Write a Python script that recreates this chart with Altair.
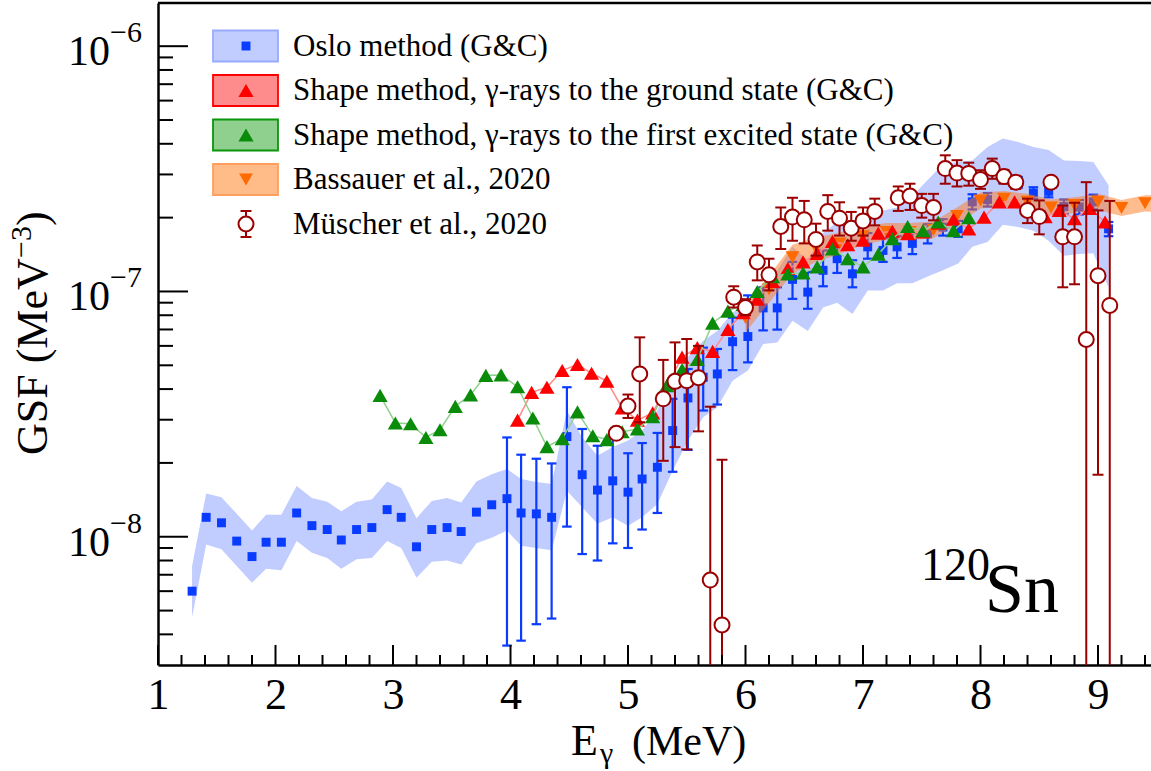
import altair as alt
import pandas as pd

# ---------------------------------------------------------------------------
# Gamma-ray strength function of 120Sn
# ---------------------------------------------------------------------------

# Oslo method (G&C): energies (MeV), GSF values, uncertainty band
oslo_e = [1.29, 1.41, 1.54, 1.67, 1.80, 1.92, 2.05, 2.18, 2.31, 2.44, 2.56,
          2.69, 2.82, 2.95, 3.07, 3.20, 3.33, 3.46, 3.58, 3.71, 3.84, 3.97,
          4.09, 4.22, 4.35, 4.48, 4.61, 4.74, 4.87, 5.00, 5.12, 5.25, 5.38,
          5.51, 5.64, 5.76, 5.89, 6.02, 6.15, 6.27, 6.40, 6.53, 6.66, 6.78,
          6.91, 7.04, 7.17, 7.29, 7.42, 7.55, 7.68, 7.81, 7.93, 8.06, 8.19,
          8.32, 8.45, 8.58, 8.71, 8.84, 8.96, 9.09]
oslo_gsf = [6.0e-9, 1.20e-8, 1.14e-8, 9.6e-9, 8.3e-9, 9.5e-9, 9.5e-9, 1.25e-8,
            1.11e-8, 1.07e-8, 9.7e-9, 1.07e-8, 1.09e-8, 1.29e-8, 1.20e-8,
            9.1e-9, 1.07e-8, 1.09e-8, 1.05e-8, 1.26e-8, 1.35e-8,
            1.43e-8, 1.25e-8, 1.24e-8, 1.20e-8, 2.56e-8, 1.79e-8, 1.55e-8,
            1.69e-8, 1.52e-8,
            1.72e-8, 1.92e-8, 2.71e-8, 3.68e-8, 4.47e-8, 4.61e-8, 6.24e-8,
            6.55e-8, 8.57e-8, 8.57e-8,
            1.12e-7, 9.94e-8, 1.22e-7, 1.36e-7, 1.18e-7, 1.52e-7, 1.47e-7,
            1.52e-7, 1.57e-7, 1.72e-7,
            1.83e-7, 1.80e-7, 2.32e-7, 2.37e-7, 2.93e-7, 2.79e-7, 2.52e-7,
            2.56e-7, 2.22e-7, 2.21e-7, 2.32e-7, 1.80e-7]
oslo_band_lo = [4.7e-9, 9.3e-9, 8.9e-9, 7.6e-9, 6.5e-9, 7.4e-9, 7.3e-9, 9.6e-9,
                8.6e-9, 8.2e-9, 7.4e-9, 8.1e-9, 8.2e-9, 9.6e-9, 9.0e-9, 6.8e-9,
                7.9e-9, 8.0e-9, 7.7e-9, 9.4e-9, 9.9e-9,
                1.06e-8, 9.2e-9, 9.0e-9, 8.8e-9, 1.54e-8, 1.32e-8, 1.13e-8,
                1.20e-8, 1.11e-8,
                1.20e-8, 1.36e-8, 1.86e-8, 2.47e-8, 3.07e-8, 3.37e-8, 4.33e-8,
                4.76e-8, 6.1e-8, 6.2e-8,
                7.6e-8, 6.9e-8, 8.6e-8, 9.0e-8, 8.1e-8, 1.01e-7, 1.01e-7,
                1.08e-7, 1.08e-7, 1.15e-7,
                1.22e-7, 1.30e-7, 1.52e-7, 1.59e-7, 1.87e-7, 1.83e-7, 1.77e-7,
                1.61e-7, 1.40e-7, 1.42e-7, 1.43e-7, 1.04e-7]
oslo_band_hi = [7.6e-9, 1.50e-8, 1.45e-8, 1.24e-8, 1.06e-8, 1.23e-8, 1.23e-8,
                1.61e-8, 1.44e-8, 1.39e-8, 1.27e-8, 1.39e-8, 1.42e-8, 1.68e-8,
                1.58e-8, 1.19e-8, 1.40e-8, 1.44e-8, 1.38e-8, 1.68e-8, 1.80e-8,
                1.89e-8, 1.72e-8, 1.67e-8, 1.64e-8, 3.27e-8, 2.54e-8, 2.14e-8,
                2.32e-8, 2.47e-8,
                2.71e-8, 3.27e-8, 4.34e-8, 5.4e-8, 6.3e-8, 6.9e-8, 8.2e-8,
                9.0e-8, 1.08e-7, 1.22e-7,
                1.52e-7, 1.34e-7, 1.73e-7, 1.92e-7, 1.83e-7, 2.08e-7, 2.14e-7,
                2.20e-7, 2.45e-7, 2.85e-7,
                3.30e-7, 3.37e-7, 3.42e-7, 3.88e-7, 4.20e-7, 4.07e-7, 3.88e-7,
                3.77e-7, 3.42e-7, 3.40e-7, 3.37e-7, 2.71e-7]
# statistical error bars (only above 3.9 MeV)
oslo_err_lo = [None] * 21 + [
    3.6e-9, 3.77e-9, 4.4e-9, 4.64e-9, 1.10e-8, 8.5e-9, 8.0e-9, 9.4e-9, 9.0e-9,
    1.07e-8, 1.25e-8, 1.84e-8, 2.26e-8, 3.27e-8, 3.46e-8, 4.78e-8, 5.14e-8,
    6.94e-8, 6.99e-8, 9.33e-8, 8.5e-8, 1.05e-7, 1.19e-7, 1.04e-7, 1.36e-7,
    1.32e-7, 1.37e-7, 1.42e-7, 1.57e-7, 1.69e-7, 1.67e-7, 2.16e-7, 2.22e-7,
    2.78e-7, 2.65e-7, 2.38e-7, 2.42e-7, 2.07e-7, 2.06e-7, 2.16e-7, 1.68e-7]
oslo_err_hi = [None] * 21 + [
    2.54e-8, 2.16e-8, 2.08e-8, 1.99e-8, 4.07e-8, 2.75e-8, 2.35e-8, 2.51e-8,
    2.19e-8, 2.41e-8, 2.65e-8, 3.65e-8, 4.83e-8, 5.9e-8, 5.83e-8, 7.82e-8,
    9.64e-8, 1.04e-7, 1.04e-7, 1.32e-7, 1.20e-7, 1.47e-7, 1.57e-7, 1.34e-7,
    1.73e-7, 1.65e-7, 1.68e-7, 1.73e-7, 1.88e-7, 1.97e-7, 1.94e-7, 2.49e-7,
    2.52e-7, 3.08e-7, 2.93e-7, 2.66e-7, 2.70e-7, 2.37e-7, 2.36e-7, 2.48e-7,
    1.92e-7]

# Shape method, gamma-rays to the ground state (G&C)
gs_e = [4.06, 4.18, 4.31, 4.44, 4.57, 4.69, 4.82, 4.95, 5.08, 5.21, 5.34,
        5.46, 5.59, 5.72, 5.85, 5.98, 6.10, 6.23, 6.36, 6.49, 6.61, 6.74,
        6.87, 7.00, 7.13, 7.25, 7.38, 7.51, 7.64, 7.77, 7.90, 8.03, 8.16,
        8.29, 8.42, 8.55, 8.67, 8.80, 8.93, 9.06]
gs_gsf = [2.99e-8, 3.88e-8, 4.07e-8, 4.76e-8, 5.04e-8, 4.64e-8, 4.31e-8,
          3.35e-8, 2.99e-8, 3.2e-8, 4.2e-8, 5.4e-8, 5.9e-8, 5.7e-8, 7.0e-8,
          8.2e-8, 9.3e-8, 1.10e-7, 1.24e-7, 1.32e-7, 1.43e-7, 1.60e-7,
          1.55e-7, 1.62e-7, 1.73e-7, 1.76e-7, 1.72e-7, 1.75e-7, 1.90e-7,
          1.97e-7, 1.80e-7, 2.01e-7, 2.32e-7, 2.32e-7, 2.20e-7, 2.02e-7,
          2.14e-7, 1.98e-7, 2.18e-7, 1.92e-7]

# Shape method, gamma-rays to the first excited state (G&C)
ex_e = [2.89, 3.02, 3.15, 3.28, 3.40, 3.53, 3.66, 3.79, 3.92, 4.06, 4.19,
        4.31, 4.44, 4.57, 4.70, 4.82, 4.95, 5.08, 5.21, 5.33, 5.46, 5.59,
        5.72, 5.85, 5.98, 6.10, 6.23, 6.36, 6.49, 6.61, 6.74, 6.87, 7.00,
        7.13, 7.25, 7.38, 7.51, 7.64, 7.77, 7.90]
ex_gsf = [3.77e-8, 2.91e-8, 2.89e-8, 2.54e-8, 2.73e-8, 3.40e-8, 3.79e-8,
          4.55e-8, 4.57e-8, 4.09e-8, 3.05e-8, 2.33e-8, 2.51e-8, 3.23e-8,
          2.58e-8, 2.49e-8, 2.68e-8, 2.75e-8, 3.09e-8, 4.13e-8, 4.80e-8,
          5.28e-8, 7.43e-8, 8.32e-8, 8.85e-8, 1.00e-7, 1.15e-7, 1.18e-7,
          1.19e-7, 1.26e-7, 1.49e-7, 1.36e-7, 1.26e-7, 1.42e-7, 1.64e-7,
          1.84e-7, 1.77e-7, 1.92e-7, 1.77e-7, 2.00e-7]

# Bassauer et al., 2020
bas_e = [6.0, 6.2, 6.4, 6.6, 6.8, 7.0, 7.2, 7.4, 7.6, 7.8, 8.0, 8.2, 8.4,
         8.6, 8.8, 9.0, 9.2, 9.4, 9.6]
bas_gsf = [7.8e-8, 1.02e-7, 1.38e-7, 1.50e-7, 1.57e-7, 1.68e-7, 1.75e-7,
           1.75e-7, 1.78e-7, 2.03e-7, 2.35e-7, 2.39e-7, 2.32e-7, 2.20e-7,
           2.25e-7, 2.32e-7, 2.19e-7, 2.29e-7, 2.27e-7]
bas_lo = [6.8e-8, 9.0e-8, 1.18e-7, 1.32e-7, 1.42e-7, 1.55e-7, 1.62e-7,
          1.62e-7, 1.65e-7, 1.88e-7, 2.18e-7, 2.22e-7, 2.15e-7, 2.04e-7,
          2.09e-7, 2.15e-7, 2.03e-7, 2.12e-7, 2.10e-7]
bas_hi = [8.9e-8, 1.16e-7, 1.55e-7, 1.66e-7, 1.74e-7, 1.84e-7, 1.90e-7,
          1.90e-7, 1.93e-7, 2.20e-7, 2.53e-7, 2.57e-7, 2.50e-7, 2.37e-7,
          2.42e-7, 2.50e-7, 2.36e-7, 2.47e-7, 2.45e-7]

# Müscher et al., 2020 (lower ends below 3e-9 run off the frame)
mu_e = [4.9, 5.0, 5.1, 5.3, 5.4, 5.5, 5.6, 5.7, 5.8, 5.9, 6.0, 6.1, 6.2, 6.3,
        6.4, 6.5, 6.6, 6.7, 6.8, 6.9, 7.0, 7.1, 7.3, 7.4, 7.5, 7.6, 7.7, 7.8,
        7.9, 8.0, 8.1, 8.2, 8.3, 8.4, 8.5, 8.6, 8.7, 8.8, 8.9, 9.0, 9.1]
mu_gsf = [2.64e-8, 3.41e-8, 4.61e-8, 3.65e-8, 4.3e-8, 4.33e-8, 4.45e-8,
          6.66e-9, 4.37e-9, 9.48e-8, 8.6e-8, 1.32e-7, 1.17e-7, 1.84e-7,
          2.01e-7, 1.96e-7, 1.63e-7, 2.12e-7, 1.99e-7, 1.81e-7, 1.94e-7,
          2.12e-7, 2.41e-7, 2.45e-7, 2.24e-7, 2.20e-7, 3.17e-7, 3.04e-7,
          3.03e-7, 2.86e-7, 3.17e-7, 2.94e-7, 2.79e-7, 2.14e-7, 2.02e-7,
          2.79e-7, 1.67e-7, 1.67e-7, 6.37e-8, 1.16e-7, 8.77e-8]
mu_lo = [2.52e-8, 3.05e-8, 2.93e-8, 2.04e-8, 2.32e-8, 2.27e-8, 2.69e-8,
         1e-9, 1e-9, 8.6e-8, 8.0e-8, 1.11e-7, 1.01e-7, 1.49e-7, 1.61e-7,
         1.57e-7, 1.40e-7, 1.77e-7, 1.69e-7, 1.61e-7, 1.69e-7, 1.86e-7,
         2.13e-7, 2.15e-7, 2.00e-7, 1.95e-7, 2.75e-7, 2.68e-7, 2.70e-7,
         2.62e-7, 2.88e-7, 2.75e-7, 2.62e-7, 1.90e-7, 1.71e-7, 2.65e-7,
         1.04e-7, 1.07e-7, 1e-9, 1.79e-8, 1e-9]
mu_hi = [2.76e-8, 3.8e-8, 6.5e-8, 5.26e-8, 6.2e-8, 6.4e-8, 6.0e-8, 3.39e-8,
         2.06e-8, 1.05e-7, 9.3e-8, 1.54e-7, 1.36e-7, 2.20e-7, 2.41e-7,
         2.34e-7, 1.89e-7, 2.47e-7, 2.31e-7, 2.11e-7, 2.20e-7, 2.39e-7,
         2.68e-7, 2.75e-7, 2.50e-7, 2.50e-7, 3.59e-7, 3.43e-7, 3.35e-7,
         3.12e-7, 3.48e-7, 3.13e-7, 2.96e-7, 2.39e-7, 2.35e-7, 2.93e-7,
         2.24e-7, 2.30e-7, 2.79e-7, 2.14e-7, 2.34e-7]

legend_labels = [
    "Oslo method (G&C)",
    "Shape method, γ-rays to the ground state (G&C)",
    "Shape method, γ-rays to the first excited state (G&C)",
    "Bassauer et al., 2020",
    "Müscher et al., 2020",
]

# axis tick positions
x_major_ticks = list(range(1, 10))
x_minor_ticks = [round(1 + 0.2 * k, 1) for k in range(43) if k % 5]
y_major_ticks = [1e-8, 1e-7, 1e-6]
y_major_exps = ["−8", "−7", "−6"]
y_minor_ticks = [m * 10.0 ** d for d in (-9, -8, -7) for m in range(2, 10)
                 if m * 10.0 ** d > 3.5e-9]

# ---------------------------------------------------------------------------
W, H = 993, 662
SERIF = "Liberation Serif"
BLUE_BAND = "#C1CCFF"
BLUE = "#0A3CFF"
RED = "#FF0000"
GREEN = "#0A8C0A"
ORANGE = "#FF6A00"
MU = "#9B0000"

xs = alt.Scale(domain=[1.0, 9.451], nice=False, zero=False)
ys = alt.Scale(type="log", domain=[3e-9, 1.5e-6], nice=False)
x_axis = alt.Axis(values=x_major_ticks, format="d", title=None, grid=False,
                  ticks=False, domainColor="black", domainWidth=2.5,
                  labelFont=SERIF, labelFontSize=44, labelColor="black",
                  labelFlush=False, labelPadding=8, labelOverlap=False)
y_axis = alt.Axis(labels=False, ticks=False, title=None, grid=False,
                  domainColor="black", domainWidth=2.5)


def X(f):
    return alt.X(f"{f}:Q", scale=xs, axis=x_axis)


def Y(f):
    return alt.Y(f"{f}:Q", scale=ys, axis=y_axis)


def caps(df, xcol, lo, hi):
    parts = [df[[xcol, lo]].rename(columns={lo: "c"}),
             df[[xcol, hi]].rename(columns={hi: "c"})]
    out = pd.concat(parts, ignore_index=True)
    return out[out["c"] >= 3e-9]


oslo = pd.DataFrame({"e": oslo_e, "v": oslo_gsf, "blo": oslo_band_lo,
                     "bhi": oslo_band_hi, "elo": oslo_err_lo,
                     "ehi": oslo_err_hi})
oslo_err = oslo.dropna(subset=["elo"])
gs = pd.DataFrame({"e": gs_e, "v": gs_gsf})
ex = pd.DataFrame({"e": ex_e, "v": ex_gsf})
bas = pd.DataFrame({"e": bas_e, "v": bas_gsf, "lo": bas_lo, "hi": bas_hi})
mu = pd.DataFrame({"e": mu_e, "v": mu_gsf, "lo": mu_lo, "hi": mu_hi})
one = pd.DataFrame({"k": [0]})
CAP = "M-1,0L1,0"

layers = []

# Oslo band, error bars and points
layers.append(alt.Chart(oslo).mark_area(color=BLUE_BAND, opacity=1, clip=True)
              .encode(x=X("e"), y=Y("bhi"), y2=alt.Y2("blo")))
layers.append(alt.Chart(oslo_err).mark_rule(color=BLUE, strokeWidth=2.2, clip=True)
              .encode(x=X("e"), y=Y("elo"), y2=alt.Y2("ehi")))
layers.append(alt.Chart(caps(oslo_err, "e", "elo", "ehi"))
              .mark_point(shape=CAP, size=90, stroke=BLUE, strokeWidth=2.2,
                          filled=False, opacity=1)
              .encode(x=X("e"), y=Y("c")))
layers.append(alt.Chart(oslo).mark_point(shape="square", filled=True, color=BLUE,
                                         size=80, opacity=1, strokeWidth=0)
              .encode(x=X("e"), y=Y("v")))

# Bassauer band and points
layers.append(alt.Chart(bas).mark_area(color="#FF7A1F", opacity=0.5, clip=True)
              .encode(x=X("e"), y=Y("hi"), y2=alt.Y2("lo")))
layers.append(alt.Chart(bas).mark_point(shape="triangle-down", filled=True,
                                        color=ORANGE, size=190, opacity=1,
                                        clip=True)
              .encode(x=X("e"), y=Y("v")))

# Shape method, ground state
layers.append(alt.Chart(gs).mark_line(color="#FF8A8A", strokeWidth=1.5)
              .encode(x=X("e"), y=Y("v")))
layers.append(alt.Chart(gs).mark_point(shape="triangle-up", filled=True,
                                       color=RED, size=230, opacity=1)
              .encode(x=X("e"), y=Y("v")))

# Shape method, first excited state
layers.append(alt.Chart(ex).mark_line(color="#8FD18F", strokeWidth=1.5)
              .encode(x=X("e"), y=Y("v")))
layers.append(alt.Chart(ex).mark_point(shape="triangle-up", filled=True,
                                       color=GREEN, size=230, opacity=1)
              .encode(x=X("e"), y=Y("v")))

# Müscher et al.
layers.append(alt.Chart(mu).mark_rule(color=MU, strokeWidth=2, clip=True)
              .encode(x=X("e"), y=Y("lo"), y2=alt.Y2("hi")))
layers.append(alt.Chart(caps(mu, "e", "lo", "hi"))
              .mark_point(shape=CAP, size=120, stroke=MU, strokeWidth=2,
                          filled=False, opacity=1)
              .encode(x=X("e"), y=Y("c")))
layers.append(alt.Chart(mu).mark_point(shape="circle", filled=True, fill="white",
                                       stroke=MU, strokeWidth=2, size=225,
                                       opacity=1)
              .encode(x=X("e"), y=Y("v")))

# inward ticks and top frame
xt_major = pd.DataFrame({"t": x_major_ticks})
xt_minor = pd.DataFrame({"t": x_minor_ticks})
yt_major = pd.DataFrame({"t": y_major_ticks, "exp": y_major_exps})
yt_minor = pd.DataFrame({"t": y_minor_ticks})
layers.append(alt.Chart(xt_major).mark_rule(color="black", strokeWidth=2)
              .encode(x=X("t"), y=alt.value(H), y2=alt.value(H - 20)))
layers.append(alt.Chart(xt_minor).mark_rule(color="black", strokeWidth=2)
              .encode(x=X("t"), y=alt.value(H), y2=alt.value(H - 10)))
layers.append(alt.Chart(yt_major).mark_rule(color="black", strokeWidth=2)
              .encode(y=Y("t"), x=alt.value(0), x2=alt.value(30)))
layers.append(alt.Chart(yt_minor).mark_rule(color="black", strokeWidth=2)
              .encode(y=Y("t"), x=alt.value(0), x2=alt.value(15)))
layers.append(alt.Chart(one).mark_rule(color="black", strokeWidth=2.5)
              .encode(x=alt.value(0), x2=alt.value(W), y=alt.value(0)))

# y tick labels 10^n
layers.append(alt.Chart(yt_major).mark_text(text="10", font=SERIF, fontSize=42,
                                            align="right", baseline="alphabetic",
                                            dy=19, color="black")
              .encode(y=Y("t"), x=alt.value(-48)))
layers.append(alt.Chart(yt_major).mark_text(font=SERIF, fontSize=30,
                                            align="left", baseline="alphabetic",
                                            dy=-4, color="black")
              .encode(y=Y("t"), x=alt.value(-48), text="exp:N"))


def label(text, x, y, size, angle=0, align="left"):
    return (alt.Chart(one)
            .mark_text(text=text, font=SERIF, fontSize=size, align=align,
                       baseline="alphabetic", angle=angle, color="black")
            .encode(x=alt.value(x), y=alt.value(y)))


# axis titles
layers.append(label("E", 413, 752, 44))
layers.append(label("γ", 442, 760, 30))
layers.append(label("(MeV)", 474, 752, 42))
layers.append(label("GSF (MeV", -111, 452, 44, angle=270))
layers.append(label("−3", -127, 255, 30, angle=270))
layers.append(label(")", -111, 223, 44, angle=270))

# nucleus label
layers.append(label("120", 763, 577, 46))
layers.append(label("Sn", 827, 609, 70))

# legend
row_y = [43 + 44.5 * i for i in range(len(legend_labels))]
swatches = [("#C1CCFF", "#98ABFF"), ("#FF8C8C", RED), ("#8FD08F", "#0A960A"),
            ("#FFBB88", "#FF9E5E")]
markers = [("square", BLUE, 80), ("triangle-up", RED, 230),
           ("triangle-up", GREEN, 230), ("triangle-down", ORANGE, 190)]
for i, (fill, stroke) in enumerate(swatches):
    cy = row_y[i]
    layers.append(alt.Chart(one).mark_rect(fill=fill, stroke=stroke, strokeWidth=1.8)
                  .encode(x=alt.value(55), x2=alt.value(120),
                          y=alt.value(cy - 15.5), y2=alt.value(cy + 15.5)))
    shape, col, size = markers[i]
    layers.append(alt.Chart(one).mark_point(shape=shape, filled=True, color=col,
                                            size=size, opacity=1)
                  .encode(x=alt.value(88), y=alt.value(cy)))
cy = row_y[4]
layers.append(alt.Chart(one).mark_rule(color=MU, strokeWidth=2)
              .encode(x=alt.value(88), y=alt.value(cy - 13), y2=alt.value(cy + 13)))
for dy in (-13, 13):
    layers.append(alt.Chart(one).mark_point(shape=CAP, size=120, stroke=MU,
                                            strokeWidth=2, filled=False, opacity=1)
                  .encode(x=alt.value(88), y=alt.value(cy + dy)))
layers.append(alt.Chart(one).mark_point(shape="circle", filled=True, fill="white",
                                        stroke=MU, strokeWidth=2, size=225,
                                        opacity=1)
              .encode(x=alt.value(88), y=alt.value(cy)))
for i, txt in enumerate(legend_labels):
    layers.append(label(txt, 135, row_y[i] + 9.5, 31))

chart = (alt.layer(*layers)
         .properties(width=W, height=H,
                     autosize=alt.AutoSizeParams(type="none"),
                     padding={"left": 158, "top": 3, "right": 0, "bottom": 106})
         .configure_view(stroke="transparent"))

chart.save("out.html", embed_options={"renderer": "svg", "actions": False})
